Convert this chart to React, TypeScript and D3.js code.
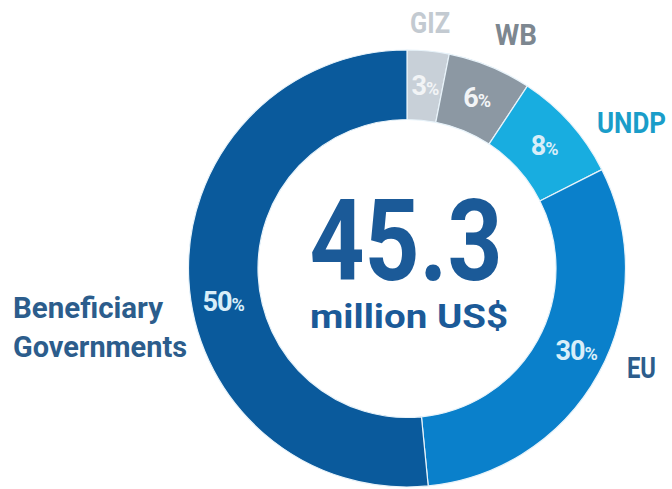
import React from "react";
import * as d3 from "d3";

const categories = ["GIZ", "WB", "UNDP", "EU", "Beneficiary Governments"];
const shares = [3, 6, 8, 30, 50];
const sliceColors = ["#c8d0d8", "#8c98a3", "#18ade0", "#0a80cb", "#0a5a9c"];
const labelColors = ["#c3cad1", "#7d8790", "#1a9dc9", "#2c5d8c", "#2c5d8c"];
const totalValue = "45.3";
const totalUnit = "million US$";

const W = 672;
const H = 489;
const cx = 407;
const cy = 268.5;
const rOuter = 218.5;
const rInner = 149;

// outer category label placement (annotation layout)
const outerLabelLayout = [
  { x: 430, y: 33, anchor: "middle", len: 40 },
  { x: 516, y: 45, anchor: "middle", len: 42 },
  { x: 597, y: 133, anchor: "start", len: 69 },
  { x: 627, y: 378, anchor: "start", len: 29 },
];

export default function App() {
  const pie = d3
    .pie<number>()
    .sort(null)
    .startAngle(0)
    .endAngle(2 * Math.PI)
    .value((d) => d);
  const arcs = pie(shares);
  const arcGen = d3.arc<d3.PieArcDatum<number>>().innerRadius(rInner).outerRadius(rOuter);
  const labelArc = d3
    .arc<d3.PieArcDatum<number>>()
    .innerRadius((rInner + rOuter) / 2)
    .outerRadius((rInner + rOuter) / 2);

  const font = "Roboto, 'Liberation Sans', sans-serif";

  return (
    <svg
      width={W}
      height={H}
      viewBox={`0 0 ${W} ${H}`}
      style={{ position: "absolute", left: 0, top: 0, background: "#fff" }}
    >
      <g transform={`translate(${cx},${cy})`}>
        {arcs.map((a, i) => (
          <path key={i} d={arcGen(a) || ""} fill={sliceColors[i]} stroke="#e8f3fa" strokeWidth={1.2} />
        ))}
        {arcs.map((a, i) => {
          let [lx, ly] = labelArc.centroid(a);
          if (i === 4) {
            const ang = (a.startAngle + a.endAngle) / 2 - 0.13;
            const r = (rInner + rOuter) / 2 + 3;
            lx = Math.sin(ang) * r;
            ly = -Math.cos(ang) * r;
          }
          if (i === 3) {
            lx += 8;
            ly -= 6;
          }
          const txt = String(shares[i]);
          return (
            <text
              key={i}
              x={lx}
              y={ly + 9}
              textAnchor="middle"
              fontFamily={font}
              fontWeight={700}
              fontSize={27}
              fill={i < 2 ? "#f2f4f6" : "#d8eef9"}
              style={{ letterSpacing: "-1px" }}
            >
              {txt}
              <tspan fontSize={18}>%</tspan>
            </text>
          );
        })}
        <text
          x={-1}
          y={280 - cy}
          textAnchor="middle"
          fontFamily={font}
          fontWeight={700}
          fontSize={114}
          fill="#1b5a98"
          textLength={193}
          lengthAdjust="spacingAndGlyphs"
        >
          {totalValue}
        </text>
        <text
          x={2}
          y={328 - cy}
          textAnchor="middle"
          fontFamily={font}
          fontWeight={700}
          fontSize={34}
          fill="#1b5a98"
          textLength={198}
          lengthAdjust="spacingAndGlyphs"
        >
          {totalUnit}
        </text>
      </g>
      {outerLabelLayout.map((p, i) => (
        <text
          key={i}
          x={p.x}
          y={p.y}
          textAnchor={p.anchor as any}
          fontFamily={font}
          fontWeight={700}
          fontSize={30}
          fill={labelColors[i]}
          textLength={p.len}
          lengthAdjust="spacingAndGlyphs"
        >
          {categories[i]}
        </text>
      ))}
      <text
        x={13}
        y={318}
        fontFamily={font}
        fontWeight={700}
        fontSize={29}
        fill={labelColors[4]}
        textLength={150}
        lengthAdjust="spacingAndGlyphs"
      >
        {categories[4].split(" ")[0]}
      </text>
      <text
        x={13}
        y={357}
        fontFamily={font}
        fontWeight={700}
        fontSize={29}
        fill={labelColors[4]}
        textLength={174}
        lengthAdjust="spacingAndGlyphs"
      >
        {categories[4].split(" ")[1]}
      </text>
    </svg>
  );
}
